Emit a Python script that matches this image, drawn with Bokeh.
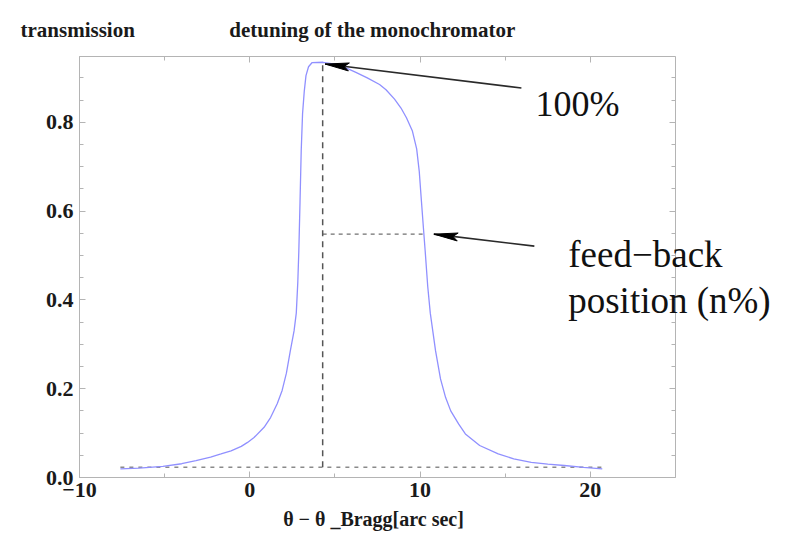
from bokeh.plotting import figure
from bokeh.models import Range1d, LinearAxis, SingleIntervalTicker, PrintfTickFormatter, Label
from bokeh.embed import file_html
from bokeh.resources import INLINE

# ---------------- data ----------------
curve_x = [-7.6, -6.5, -5.1, -4.0, -3.16, -2.3, -1.69, -1.1, -0.5, -0.13, 0.25, 0.84, 1.22,
           1.61, 1.9, 2.15, 2.38, 2.6, 2.73, 2.82, 2.88, 2.95, 3.02, 3.1, 3.2, 3.3, 3.45,
           3.65, 4.3, 5.0, 5.68, 6.2, 6.9, 7.62, 8.0, 8.5, 8.88, 9.2, 9.55, 9.8, 9.95, 10.08,
           10.2, 10.3, 10.45, 10.6, 10.91, 11.2, 11.5, 11.8, 12.27, 12.66, 13.5, 14.59,
           15.5, 16.53, 17.5, 18.47, 19.6, 20.7]
curve_y = [0.0195, 0.021, 0.025, 0.031, 0.038, 0.046, 0.053, 0.06, 0.07, 0.079, 0.09, 0.113,
           0.135, 0.166, 0.196, 0.235, 0.285, 0.33, 0.37, 0.44, 0.51, 0.62, 0.735, 0.82,
           0.87, 0.905, 0.925, 0.934, 0.935, 0.931, 0.922, 0.913, 0.90, 0.885, 0.873, 0.852,
           0.832, 0.81, 0.78, 0.74, 0.69, 0.622, 0.56, 0.51, 0.43, 0.37, 0.285, 0.222,
           0.18, 0.15, 0.12, 0.098, 0.072, 0.053, 0.042, 0.034, 0.03, 0.027, 0.023, 0.0195]

peak_x = 4.28          # position of the maximum (vertical dashed line)
peak_y = 0.935
base_y = 0.023         # baseline level
base_x = [-7.6, 20.7]  # extent of baseline dashes
feed_y = 0.548         # feed-back level
feed_x_end = 10.15

arrow1_tail = (15.95, 0.877)
arrow1_tip = (4.42, 0.931)
arrow2_tail = (16.71, 0.521)
arrow2_tip = (10.81, 0.548)

# text anchors (data space)
txt_100 = (16.78, 0.841)
txt_feed = (18.70, 0.503)
txt_pos = (18.70, 0.398)

title_left = "transmission"
title_right = "detuning of the monochromator"
x_label = "\u03b8 \u2212 \u03b8 _Bragg[arc sec]"

# plotted box of the chart (data space)
X0, X1 = -10, 25
Y0, Y1 = 0.0, 0.948

# ---------------- layout ----------------
W, H = 792, 534
BOX_L, BOX_R, BOX_T, BOX_B = 79, 675, 55, 477   # pixel box of the visible frame
SX = (BOX_R - BOX_L) / (X1 - X0)
SY = (BOX_B - BOX_T) / (Y1 - Y0)
XE = X1 + (W - BOX_R) / SX          # bokeh frame extends to the right canvas edge

FONT = "Liberation Serif"
FRAME_COL = "#b4b4b4"
NBSP = "\u00a0"

p = figure(width=W, height=H, output_backend="svg", toolbar_location=None,
           x_range=Range1d(X0, XE), y_range=Range1d(Y0, Y1),
           min_border_left=BOX_L, min_border_right=0, min_border_top=BOX_T,
           min_border_bottom=H - BOX_B,
           x_axis_type=None, y_axis_type=None)
p.xgrid.visible = False
p.ygrid.visible = False
p.outline_line_color = None
p.background_fill_color = "white"
p.border_fill_color = "white"

# title line above the box: two headings on one line
p.title.text = title_left + NBSP * 18 + title_right
p.title.align = "left"
p.title.offset = 20 - BOX_L
p.title.text_font = FONT
p.title.text_font_style = "bold"
p.title.text_font_size = "21px"
p.title.text_color = "#1a1a1a"
p.title.standoff = 30


def style_axis(ax, show_labels, outward=False):
    ax.axis_line_color = FRAME_COL
    ax.major_tick_line_color = FRAME_COL
    ax.minor_tick_line_color = FRAME_COL
    if outward:
        ax.major_tick_in, ax.major_tick_out = 0, 6
        ax.minor_tick_in, ax.minor_tick_out = 0, 4
    else:
        ax.major_tick_in, ax.major_tick_out = 6, 0
        ax.minor_tick_in, ax.minor_tick_out = 4, 0
    if show_labels:
        ax.major_label_text_font = FONT
        ax.major_label_text_font_style = "bold"
        ax.major_label_text_font_size = "22px"
        ax.major_label_text_color = "#1a1a1a"
    else:
        ax.major_label_text_color = None
        ax.major_label_text_font_size = "1px"
        ax.major_label_standoff = 0


# bottom axis
xb = LinearAxis(ticker=SingleIntervalTicker(interval=10, num_minor_ticks=2), bounds=(X0, X1))
style_axis(xb, True)
xb.major_label_overrides = {-10: "\u221210", 0: "0", 10: "10", 20: "20"}
xb.major_label_standoff = 5
# label is centred on the (wider) frame, so pad it to centre it under the box
xb.axis_label = x_label + NBSP * 25
xb.axis_label_text_font = FONT
xb.axis_label_text_font_style = "bold"
xb.axis_label_text_font_size = "20px"
xb.axis_label_text_color = "#1a1a1a"
xb.axis_label_standoff = 8
p.add_layout(xb, "below")

# left axis
yl = LinearAxis(ticker=SingleIntervalTicker(interval=0.2, num_minor_ticks=4),
                formatter=PrintfTickFormatter(format="%.1f"), bounds=(Y0, Y1))
style_axis(yl, True)
yl.major_label_standoff = 6
p.add_layout(yl, "left")

# right border of the box (drawn at x = X1, ticks pointing into the box)
yr = LinearAxis(ticker=SingleIntervalTicker(interval=0.2, num_minor_ticks=4),
                bounds=(Y0, Y1), fixed_location=X1)
style_axis(yr, False, outward=True)
p.add_layout(yr, "left")

# top border of the box
xt = LinearAxis(ticker=SingleIntervalTicker(interval=10, num_minor_ticks=2), bounds=(X0, X1))
style_axis(xt, False)
p.add_layout(xt, "above")

# ---------------- dashed guide lines ----------------
p.line(base_x, [base_y, base_y], line_color="#8a8a8a", line_width=1.5, line_dash="4 5")
p.line([peak_x, feed_x_end], [feed_y, feed_y], line_color="#707070", line_width=1.2, line_dash="4 4")
p.line([peak_x, peak_x], [base_y, peak_y], line_color="#555555", line_width=1.5, line_dash="6 5")

# ---------------- curve ----------------
p.line(curve_x, curve_y, line_color="#9090ff", line_width=1.3)


# ---------------- arrows ----------------
def head_polygon(tip, tail, length=24.0, width=8.0):
    tx, ty = (tip[0] - X0) * SX, (tip[1] - Y0) * SY
    bx, by = (tail[0] - X0) * SX, (tail[1] - Y0) * SY
    dx, dy = bx - tx, by - ty
    d = (dx * dx + dy * dy) ** 0.5
    ux, uy = dx / d, dy / d
    nx, ny = -uy, ux
    cx, cy = tx + ux * length, ty + uy * length
    mx, my = tx + ux * length * 0.8, ty + uy * length * 0.8
    pts = [(tx, ty), (cx + nx * width / 2, cy + ny * width / 2), (mx, my),
           (cx - nx * width / 2, cy - ny * width / 2)]
    xs = [X0 + a / SX for a, b in pts]
    ys = [Y0 + b / SY for a, b in pts]
    return xs, ys


for tail, tip in [(arrow1_tail, arrow1_tip), (arrow2_tail, arrow2_tip)]:
    p.line([tail[0], tip[0]], [tail[1], tip[1]], line_color="#2a2a2a", line_width=1.6)
    hx, hy = head_polygon(tip, tail)
    p.patch(hx, hy, fill_color="black", line_color="black", line_width=1)


# ---------------- texts ----------------
def lab(pos, text, size):
    p.add_layout(Label(x=pos[0], y=pos[1], text=text,
                       text_font=FONT, text_font_size=size,
                       text_color="#111111", text_align="left", text_baseline="alphabetic"))


lab(txt_100, "100%", "36px")
lab(txt_feed, "feed\u2212back", "37px")
lab(txt_pos, "position (n%)", "37px")

open("out.html", "w").write(file_html(p, INLINE))
